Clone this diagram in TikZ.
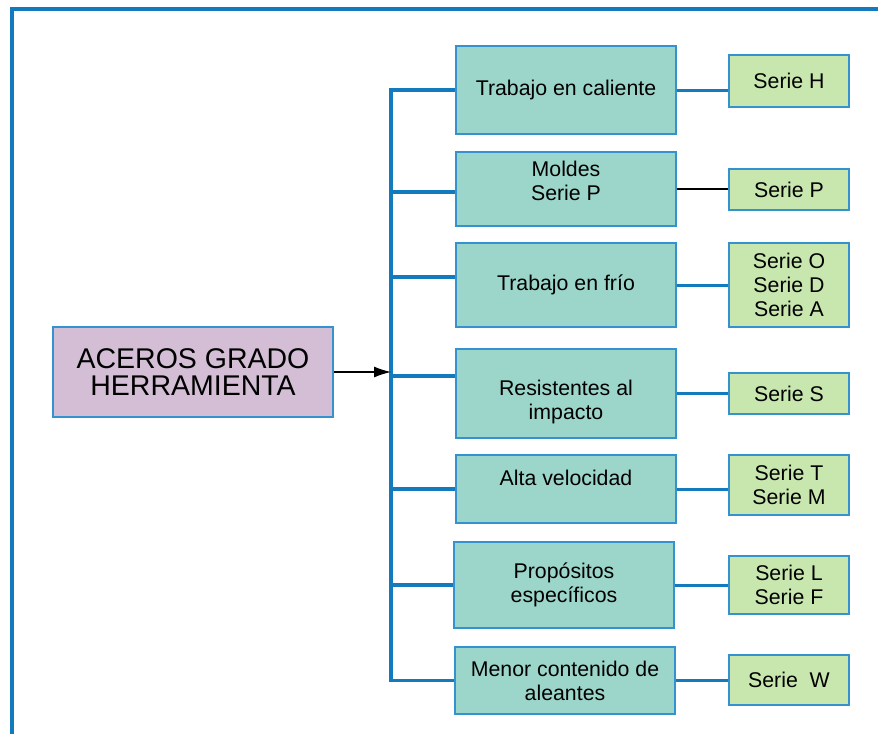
\documentclass[tikz,border=0pt]{standalone}
\usepackage{fontspec}
\setmainfont{Liberation Sans}
\usetikzlibrary{positioning, arrows.meta}
\definecolor{lineblue}{RGB}{20,122,190}
\definecolor{edgeblue}{RGB}{52,146,206}
\definecolor{lilac}{RGB}{211,190,214}
\definecolor{teal}{RGB}{156,213,202}
\definecolor{leaf}{RGB}{200,231,174}
\begin{document}
\begin{tikzpicture}[x=1pt, y=-1pt,
  every node/.style={font=\fontsize{21.3}{24}\selectfont, align=center, inner sep=2pt},
  mainbox/.style={draw=edgeblue, line width=1.4pt, fill=lilac, minimum width=280pt, minimum height=90pt,
    font=\fontsize{28.5}{27}\selectfont},
  tipo/.style={draw=edgeblue, line width=1.4pt, fill=teal, minimum width=220pt},
  serie/.style={draw=edgeblue, line width=1.4pt, fill=leaf, minimum width=120pt},
  branch/.style={lineblue, line width=3.5pt},
  link/.style={lineblue, line width=3pt}]
\useasboundingbox (0,0) rectangle (878,734);
% marco
\draw[lineblue, line width=4.5pt] (12,734) -- (12,9) -- (878,9);
\node (main) [mainbox] at (193,372) {ACEROS GRADO\\HERRAMIENTA};
% tipos de acero
\node (m1) [tipo, minimum height=88pt] at (566,90) {Trabajo en caliente};
\node (m2) [tipo, minimum height=74pt, text depth=17pt] at (566,189) {Moldes\\Serie P};
\node (m3) [tipo, minimum height=84pt] at (566,285) {Trabajo en frío};
\node (m4) [tipo, minimum height=89pt, text height=56pt] at (566,393.5) {Resistentes al\\impacto};
\node (m5) [tipo, minimum height=68pt, text depth=23pt] at (566,489) {Alta velocidad};
\node (m6) [tipo, minimum height=86pt] at (564,585) {Propósitos\\específicos};
\node (m7) [tipo, minimum height=67pt] at (565,680.5) {Menor contenido de\\aleantes};
% series
\node (s1) [serie, minimum height=52pt] at (789,81) {Serie H};
\node (s2) [serie, minimum height=41pt] at (789,189.5) {Serie P};
\node (s3) [serie, minimum height=84pt] at (789,285) {Serie O\\Serie D\\Serie A};
\node (s4) [serie, minimum height=41pt] at (789,393.5) {Serie S};
\node (s5) [serie, minimum height=60pt] at (789,485) {Serie T\\Serie M};
\node (s6) [serie, minimum height=58pt] at (789,585) {Serie L\\Serie F};
\node (s7) [serie, minimum height=50pt] at (789,680) {Serie~~W};
% tronco
\coordinate (trunktop) at (391,90);
\coordinate (trunkbot) at (391,680);
\draw[branch, line width=4pt, line cap=rect] (trunktop) -- (trunkbot);
\foreach \n/\d in {1/0, 2/-3, 3/8, 4/17.5, 5/0, 6/0, 7/0}
  \draw[branch] ([yshift=\d pt]m\n.west) -- ([yshift=\d pt]m\n.west -| trunktop);
\draw[-{Latex[length=17pt,width=11pt]}, line width=1.2pt] (main.east) -- (main.east -| trunktop);
\foreach \n in {1,3,4,5,6,7}
  \draw[link] (m\n.east) -- (m\n.east -| s\n.west);
\draw[black, line width=2.5pt] (m2.east) -- (m2.east -| s2.west);
\end{tikzpicture}
\end{document}
